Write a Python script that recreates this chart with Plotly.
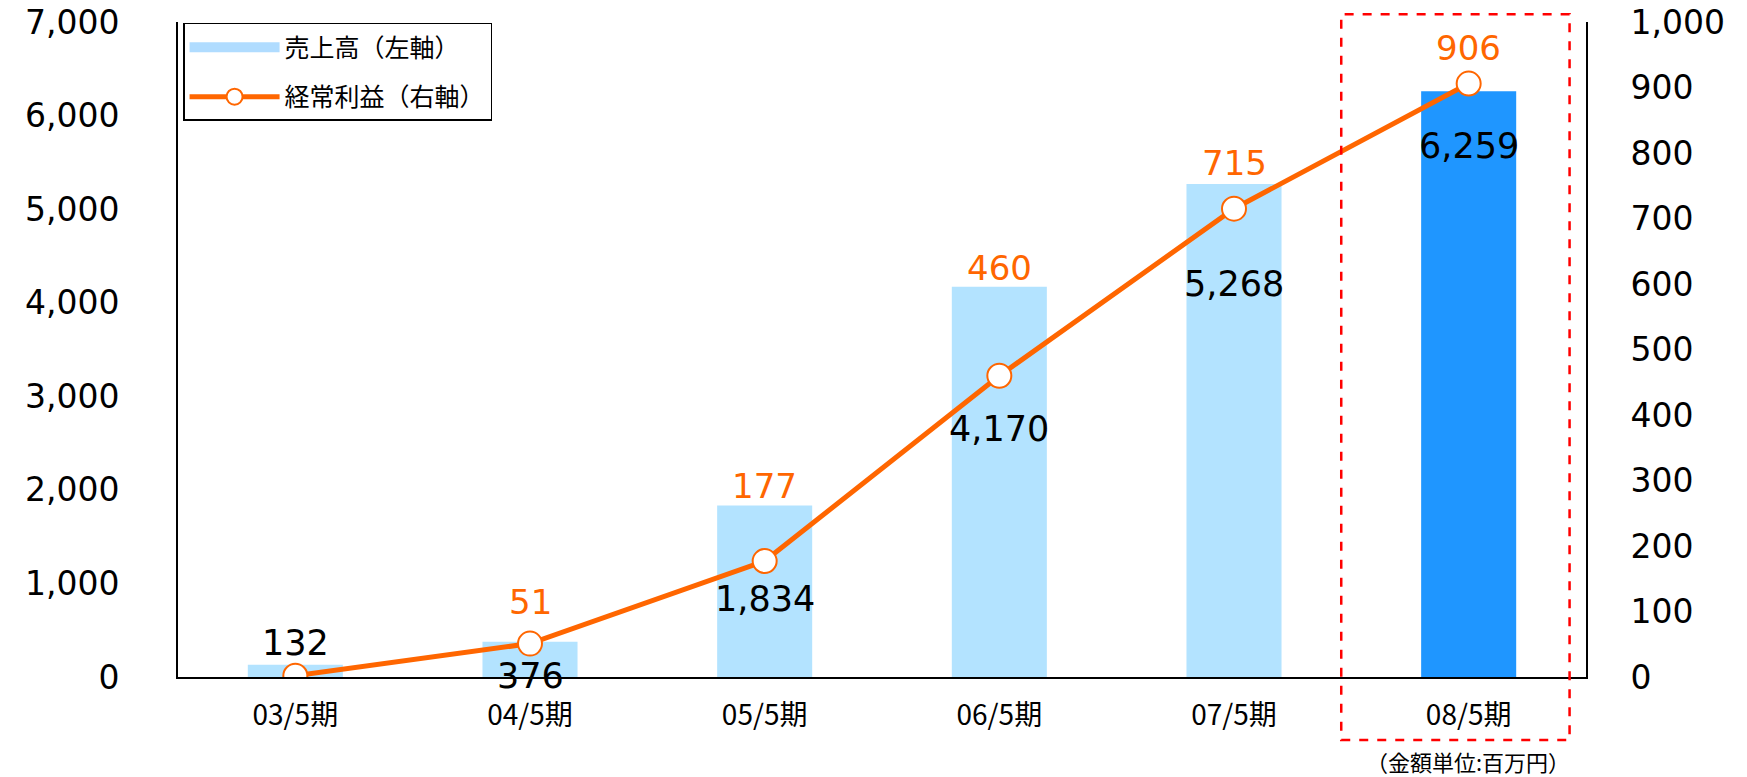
import plotly.graph_objects as go

# ---- data ----
periods = ["03/5期", "04/5期", "05/5期", "06/5期", "07/5期", "08/5期"]
sales = [132, 376, 1834, 4170, 5268, 6259]          # 売上高 (left axis)
profit = [2, 51, 177, 460, 715, 906]                # 経常利益 (right axis)
sales_labels = ["132", "376", "1,834", "4,170", "5,268", "6,259"]
profit_labels = ["", "51", "177", "460", "715", "906"]
left_ticks = [0, 1000, 2000, 3000, 4000, 5000, 6000, 7000]
right_ticks = [0, 100, 200, 300, 400, 500, 600, 700, 800, 900, 1000]

# ---- styles ----
ORANGE = "#ff6600"
bar_colors = ["#b3e3ff"] * 5 + ["#1f96ff"]
sales_label_shift = [33, -32, -38, -53, -75, -62]   # px relative to profit marker
profit_label_shift = [0, 40, 19, 19, 21, 43]        # px above bar top
NUM_FONT = "DejaVu Sans"
JP_FONT = "Noto Sans CJK JP"

fig = go.Figure()

fig.add_trace(go.Bar(
    x=periods, y=sales, name="売上高（左軸）",
    marker=dict(color=bar_colors, line=dict(width=0)),
    showlegend=False, yaxis="y",
))
# legend swatch for the bars (wide rectangle like the original)
fig.add_trace(go.Scatter(
    x=[None], y=[None], name="売上高（左軸）", mode="lines",
    line=dict(color="#b0dcff", width=14), legendgroup="a",
))
fig.add_trace(go.Scatter(
    x=periods, y=profit, name="経常利益（右軸）", yaxis="y2",
    mode="lines+markers", legendgroup="b",
    line=dict(color=ORANGE, width=5),
    marker=dict(symbol="circle", size=24, color="white",
                line=dict(color=ORANGE, width=2)),
))

annotations = []
for i, p in enumerate(periods):
    annotations.append(dict(
        x=p, y=profit[i], xref="x", yref="y2", text=sales_labels[i],
        showarrow=False, yshift=sales_label_shift[i],
        font=dict(family=NUM_FONT, size=35, color="black"),
    ))
    if profit_labels[i]:
        annotations.append(dict(
            x=p, y=sales[i], xref="x", yref="y", text=profit_labels[i],
            showarrow=False, yshift=profit_label_shift[i],
            font=dict(family=NUM_FONT, size=34, color=ORANGE),
        ))
annotations.append(dict(
    x=0.99, y=-0.128, xref="paper", yref="paper", xanchor="right", yanchor="middle",
    text="（金額単位:百万円）", showarrow=False,
    font=dict(family=JP_FONT, size=22, color="black"),
))

fig.update_layout(
    width=1747, height=777,
    margin=dict(l=178, r=161, t=22, b=100, autoexpand=False),
    paper_bgcolor="white", plot_bgcolor="white",
    bargap=0.595,
    showlegend=True,
    legend=dict(
        x=0.0036, y=0.9985, xanchor="left", yanchor="top",
        bordercolor="black", borderwidth=1.5, bgcolor="white",
        font=dict(family=JP_FONT, size=25, color="black"),
        itemwidth=90, tracegroupgap=14,
    ),
    xaxis=dict(
        showline=True, linecolor="black", linewidth=2, showgrid=False,
        ticks="", ticklabelstandoff=12, automargin=False,
        tickfont=dict(family=JP_FONT, size=28, color="black"),
    ),
    yaxis=dict(
        range=[0, 7000], tickvals=left_ticks, tickformat=",",
        showline=True, linecolor="black", linewidth=2, showgrid=False,
        zeroline=False, ticks="", ticklabelstandoff=50, automargin=False,
        tickfont=dict(family=NUM_FONT, size=33, color="black"),
    ),
    yaxis2=dict(
        range=[0, 1000], tickvals=right_ticks, tickformat=",",
        overlaying="y", side="right",
        showline=True, linecolor="black", linewidth=2, showgrid=False,
        zeroline=False, ticks="", ticklabelstandoff=36, automargin=False,
        tickfont=dict(family=NUM_FONT, size=33, color="black"),
    ),
    annotations=annotations,
    shapes=[dict(
        type="rect", xref="x", yref="paper",
        x0=4.457, x1=5.43, y0=-0.096, y1=1.012,
        line=dict(color="#ff0000", width=2.5, dash="dash"),
        fillcolor="rgba(0,0,0,0)", layer="above",
    )],
)

fig.write_html("out.html", config={"displayModeBar": False},
               post_script="document.body.style.margin='0';")
